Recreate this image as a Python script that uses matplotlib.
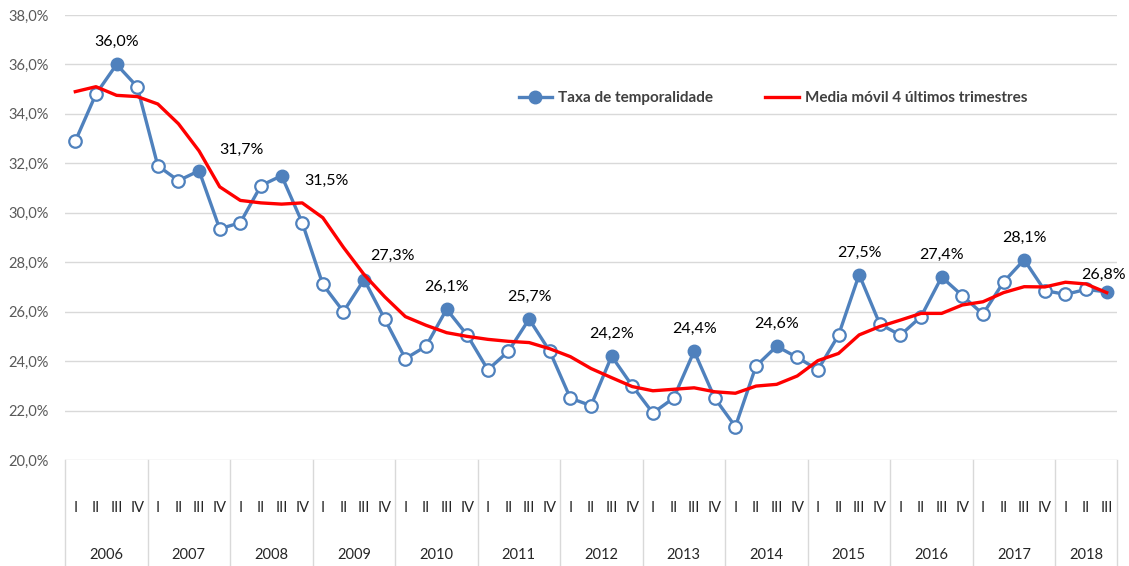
import matplotlib
matplotlib.use("Agg")
import matplotlib.pyplot as plt
from matplotlib.transforms import blended_transform_factory
from matplotlib.ticker import FuncFormatter

plt.rcParams['font.family'] = ['Lato', 'DejaVu Sans']

years = [str(y) for y in range(2006, 2019)]
quarters = ['I', 'II', 'III', 'IV']

# taxa de temporalidade, trimestral 2006 I .. 2018 III
taxa = [32.9, 34.8, 36.0, 35.1,
        31.9, 31.3, 31.7, 29.35,
        29.6, 31.1, 31.5, 29.6,
        27.1, 26.0, 27.3, 25.7,
        24.1, 24.6, 26.1, 25.05,
        23.65, 24.4, 25.7, 24.4,
        22.5, 22.2, 24.2, 23.0,
        21.9, 22.5, 24.4, 22.5,
        21.35, 23.8, 24.6, 24.15,
        23.65, 25.05, 27.5, 25.5,
        25.05, 25.8, 27.4, 26.65,
        25.9, 27.2, 28.1, 26.85,
        26.7, 26.9, 26.8]

# media movil 4 ultimos trimestres
media = [34.9, 35.1, 34.75, 34.7,
         34.4, 33.6, 32.5, 31.05,
         30.5, 30.4, 30.35, 30.4,
         29.8, 28.6, 27.5, 26.6,
         25.8, 25.45, 25.15, 25.0,
         24.88, 24.8, 24.75, 24.5,
         24.18, 23.7, 23.33, 22.97,
         22.8, 22.86, 22.92, 22.76,
         22.7, 22.99, 23.06, 23.4,
         24.02, 24.31, 25.06, 25.4,
         25.66, 25.93, 25.93, 26.27,
         26.4, 26.77, 27.01, 27.0,
         27.19, 27.12, 26.77]

n = len(taxa)
x = list(range(n))
q_labels = [quarters[i % 4] for i in x]
filled = [i for i in x if q_labels[i] == 'III']
opened = [i for i in x if q_labels[i] != 'III']

# label offsets in pixels (dx, dy) per labelled point
label_offsets = {2: (0, 23), 6: (42, 21), 10: (45, -5), 14: (28, 24), 50: (-3, 17)}

blue = '#4F81BD'
red = '#FF0000'
grid_c = '#D9D9D9'

fig = plt.figure(figsize=(11.29, 5.66), dpi=100)
ax = fig.add_axes([65 / 1129, 1 - 460 / 566, 1052 / 1129, 445 / 566])

ax.plot(x, taxa, color=blue, lw=2.4, zorder=3, label='Taxa de temporalidade',
        marker='o', markersize=9, markevery=filled, markerfacecolor=blue, markeredgecolor=blue)
ax.plot(opened, [taxa[i] for i in opened], ls='none', marker='o', markersize=9,
        markerfacecolor='white', markeredgecolor=blue, markeredgewidth=1.6, zorder=4)
ax.plot(x, media, color=red, lw=2.4, zorder=5, label='Media móvil 4 últimos trimestres')

for i in filled:
    dx, dy = label_offsets.get(i, (0, 22))
    ax.annotate(f"{taxa[i]:.1f}%".replace('.', ','), (x[i], taxa[i]), xytext=(dx, dy),
                textcoords='offset pixels', ha='center', va='center', fontsize=11.5, color='#000000')

ax.set_xlim(-0.5, n - 0.5)
ax.set_ylim(20, 38)
ax.set_yticks(range(20, 39, 2))
ax.yaxis.set_major_formatter(FuncFormatter(lambda v, p: f"{v:.1f}%".replace('.', ',')))
ax.tick_params(axis='y', length=0, pad=12, labelsize=10.5, labelcolor='#595959')
ax.set_xticks([])
ax.grid(axis='y', color=grid_c, lw=1)
ax.set_axisbelow(True)
for s in ax.spines.values():
    s.set_visible(False)

# two-level category axis
trans = blended_transform_factory(ax.transData, ax.transAxes)
for i in x:
    ax.text(i, -0.108, q_labels[i], transform=trans, ha='center', va='center',
            fontsize=10.5, color='#262626')
for k, yr in enumerate(years):
    start = 4 * k - 0.5
    end = min(4 * k + 3.5, n - 0.5)
    ax.text((start + end) / 2, -0.213, yr, transform=trans, ha='center', va='center',
            fontsize=10.5, color='#262626')
    ax.plot([start, start], [0, -0.24], transform=trans, color=grid_c, lw=1, clip_on=False)
ax.plot([n - 0.5, n - 0.5], [0, -0.24], transform=trans, color=grid_c, lw=1, clip_on=False)

leg = ax.legend(ncol=2, frameon=False, loc='center', bbox_to_anchor=(0.673, 0.813),
                handlelength=2.2, columnspacing=3.4, handletextpad=0.4,
                prop={'weight': 'bold', 'size': 11})
for t in leg.get_texts():
    t.set_color('#404040')

fig.savefig('out.png', dpi=100)
